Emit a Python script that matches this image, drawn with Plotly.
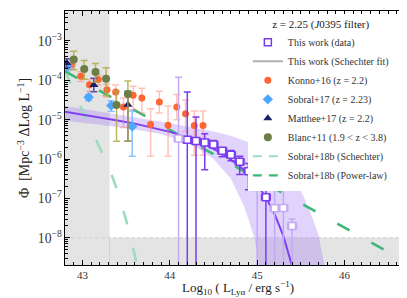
import numpy as np
import plotly.graph_objects as go

# ---------------- data (log10 Phi values) ----------------
# This work (data)
tw_x = [44.1, 44.2, 44.3, 44.4, 44.5, 44.6, 44.7, 44.8, 44.9, 45.0, 45.1, 45.2, 45.3, 45.4]
tw_log = [-5.48, -5.51, -5.54, -5.58, -5.63, -5.79, -5.89, -6.07, -6.31, -6.71, -6.97, -7.25, -7.24, -7.70]
tw_hi = [-3.92, -4.30, -4.93, -5.36, -5.53, -5.73, -5.78, -5.93, -6.11, -6.43, -6.69, -6.77, -6.77, -7.52]
tw_lo = [None, None, None, -6.27, -5.72, -5.94, -6.04, -6.39, -6.78, None, None, None, None, None]
tw_light = [True, False, False, False, False, False, False, False, False, True, False, True, True, True]
tw_xerr = 0.05

# This work (Schechter fit)
fit_x = [42.8, 43.0, 43.2, 43.4, 43.6, 43.8, 44.0, 44.2, 44.4, 44.6, 44.8, 44.9, 45.0, 45.1, 45.2, 45.3, 45.4, 45.45]
fit_log = [-4.80, -4.87, -4.94, -5.02, -5.10, -5.20, -5.31, -5.45, -5.62, -5.86, -6.18, -6.38, -6.65, -6.97, -7.40, -7.95, -8.65, -9.10]

# confidence band edges
band_up_x = [42.8, 43.2, 43.6, 43.87, 44.2, 44.5, 44.7, 44.9, 45.1, 45.3, 45.5, 45.6, 45.7, 45.77, 45.85]
band_up_log = [-4.65, -4.79, -4.93, -5.04, -5.17, -5.30, -5.41, -5.57, -5.82, -6.18, -6.80, -7.30, -7.90, -8.69, -9.60]
band_lo_x = [42.8, 43.2, 43.6, 43.87, 44.1, 44.3, 44.5, 44.7, 44.85, 44.97, 45.02, 45.08]
band_lo_log = [-5.03, -5.13, -5.25, -5.35, -5.50, -5.70, -6.00, -6.50, -7.20, -8.00, -8.70, -9.50]

# Konno+16
ko_x = [42.88, 42.98, 43.08, 43.18, 43.28, 43.38, 43.47, 43.58, 43.68, 43.78, 43.88, 43.98, 44.08, 44.18, 44.28, 44.38]
ko_log = [-3.60, -3.90, -4.11, -3.98, -4.24, -4.30, -4.68, -4.38, -4.45, -5.12, -4.55, -5.14, -4.68, -4.85, -5.15, -5.15]
ko_hi = [-3.50, -3.78, -3.98, -3.86, -4.10, -4.12, -4.45, -4.15, -4.20, -4.72, -4.28, -4.65, -4.36, -4.50, -4.78, -4.78]
ko_lo = [-3.72, -4.03, -4.28, -4.12, -4.42, -4.60, -5.20, -4.75, -4.83, -5.93, -4.83, -5.93, -5.00, -5.30, -5.90, -5.90]

# Sobral+17
so_x = [42.83, 43.07, 43.33, 43.57]
so_log = [-3.64, -4.43, -4.64, -5.17]
so_hi = [-3.55, -4.36, -4.52, -4.78]
so_lo = [-3.75, -4.51, -4.79, -5.93]

# Matthee+17
ma_x = [42.82, 43.13, 43.52]
ma_log = [-3.56, -4.12, -4.62]
ma_hi = [-3.45, -3.95, -4.28]
ma_lo = [-3.68, -4.29, -5.55]

# Blanc+11
bl_x = [42.90, 43.02, 43.15, 43.27, 43.39, 43.52]
bl_log = [-3.47, -3.71, -3.79, -3.96, -4.63, -4.35]
bl_hi = [-3.26, -3.50, -3.57, -3.68, -4.28, -4.02]
bl_lo = [-3.73, -3.97, -4.05, -4.39, -5.55, -5.55]

# Sobral+18b Schechter
s18s_x = [42.8, 42.9, 43.0, 43.1, 43.2, 43.3, 43.4, 43.5, 43.6, 43.7]
s18s_log = [-3.76, -4.28, -4.78, -5.25, -5.72, -6.20, -6.80, -7.55, -8.45, -9.50]

# Sobral+18b power-law
s18p_x = [42.8, 46.75]
s18p_log = [-3.77, -8.67]

# limits
lum_limit = 43.31
phi_limit = 1e-8

XR = [42.8, 46.75]
YR = [-8.69, -2.24]

FONT = "Liberation Serif"


def p(v):
    return None if v is None else 10.0 ** v


def errs(logs, his, los):
    y = np.array([10.0 ** v for v in logs])
    up = np.array([10.0 ** h for h in his]) - y
    dn = []
    for yy, l in zip(y, los):
        dn.append(yy - 1e-13 if l is None else yy - 10.0 ** l)
    return y, up, np.array(dn)


fig = go.Figure()

# confidence band
fig.add_trace(go.Scatter(
    x=band_up_x + band_lo_x[::-1],
    y=[p(v) for v in band_up_log + band_lo_log[::-1]],
    fill="toself", fillcolor="rgba(160,120,245,0.32)", line=dict(width=0),
    mode="lines", showlegend=False, hoverinfo="skip"))

# Sobral+18b lines
fig.add_trace(go.Scatter(x=s18s_x, y=[p(v) for v in s18s_log], mode="lines",
                         line=dict(color="#9ddcbc", width=2.6, dash="14px,24px"),
                         showlegend=False))
fig.add_trace(go.Scatter(x=s18p_x, y=[p(v) for v in s18p_log], mode="lines",
                         line=dict(color="#3cb878", width=2.6, dash="14px,25px"),
                         showlegend=False))

# fit line
fig.add_trace(go.Scatter(x=fit_x, y=[p(v) for v in fit_log], mode="lines",
                         line=dict(color="#8040f0", width=2), showlegend=False))

# literature points
def lit(xs, logs, his, los, name, sym, mcol, ecol, size, rank):
    y, up, dn = errs(logs, his, los)
    fig.add_trace(go.Scatter(
        x=xs, y=y, mode="markers", name=name, legendrank=rank,
        marker=dict(symbol=sym, color=mcol, size=size, line=dict(width=0)),
        error_y=dict(type="data", symmetric=False, array=up, arrayminus=dn,
                     color=ecol, thickness=1.5, width=3.5)))

lit(ko_x, ko_log, ko_hi, ko_lo, "Konno+16 (z = 2.2)", "circle", "#ff6633", "rgba(255,120,100,0.45)", 7, 3)
lit(so_x, so_log, so_hi, so_lo, "Sobral+17 (z = 2.23)", "diamond", "#4da6ff", "rgba(90,170,255,0.7)", 8, 4)
lit(ma_x, ma_log, ma_hi, ma_lo, "Matthee+17 (z = 2.2)", "triangle-up", "#1b1f6b", "#5a4fa8", 8, 5)
lit(bl_x, bl_log, bl_hi, bl_lo, "Blanc+11 (1.9 < z < 3.8)", "circle", "#6d7d46", "rgba(175,172,70,0.85)", 8, 6)

# This work data, dark and light error bars
for light in (False, True):
    idx = [i for i, l in enumerate(tw_light) if l == light]
    y, up, dn = errs([tw_log[i] for i in idx], [tw_hi[i] for i in idx], [tw_lo[i] for i in idx])
    col = "#c4a8f6" if light else "#7a3cf0"
    fig.add_trace(go.Scatter(
        x=[tw_x[i] for i in idx], y=y, mode="markers",
        name="This work (data)", showlegend=not light,
        marker=dict(symbol="square", color="white", size=7, line=dict(color=col, width=1.5)),
        error_y=dict(type="data", symmetric=False, array=up, arrayminus=dn,
                     color=col, thickness=1.5, width=3.5),
        error_x=dict(type="constant", value=tw_xerr, color=col, thickness=1.5, width=3.5),
        legendrank=1))

# legend-only entries
fig.add_trace(go.Scatter(x=[None], y=[None], mode="lines", name="This work (Schechter fit)",
                         line=dict(color="#b0b0b0", width=2), legendrank=2))
fig.add_trace(go.Scatter(x=[None], y=[None], mode="lines", name="Sobral+18b (Schechter)",
                         line=dict(color="#9ddcbc", width=2, dash="9px,7px"), legendrank=7))
fig.add_trace(go.Scatter(x=[None], y=[None], mode="lines", name="Sobral+18b (Power-law)",
                         line=dict(color="#3cb878", width=2.4, dash="9px,7px"), legendrank=8))

shapes = [
    dict(type="rect", xref="x", yref="paper", x0=XR[0], x1=lum_limit, y0=0, y1=1,
         fillcolor="#e4e4e4", line=dict(width=0), layer="below"),
    dict(type="rect", xref="paper", yref="y", x0=0, x1=1, y0=10 ** YR[0], y1=phi_limit,
         fillcolor="#e4e4e4", line=dict(width=0), layer="below"),
    dict(type="line", xref="paper", yref="y", x0=0, x1=1, y0=phi_limit, y1=phi_limit,
         line=dict(color="#cfcfcf", width=1, dash="4px,2px"), layer="below"),
    dict(type="line", xref="x", yref="y", x0=lum_limit, x1=lum_limit, y0=10 ** YR[0], y1=phi_limit,
         line=dict(color="#d2d2d2", width=1), layer="below"),
]

fig.update_layout(
    width=407, height=298,
    margin=dict(l=57, r=5, t=3, b=41),
    paper_bgcolor="white", plot_bgcolor="white",
    font=dict(family=FONT, color="#222222", size=11),
    shapes=shapes,
    showlegend=True,
    legend=dict(x=0.53, xanchor="left", y=0.99, yanchor="top",
                bgcolor="white", borderwidth=0,
                font=dict(family=FONT, size=10, color="#333333"),
                title=dict(text="z = 2.25 (<i>J</i>0395 filter)", side="top center",
                           font=dict(family=FONT, size=11, color="#222222")),
                tracegroupgap=0, itemwidth=30),
    annotations=[dict(text="Log<sub>10</sub> ( L<sub>Lyα</sub> / erg s<sup>−1</sup>)",
                      xref="paper", yref="paper", x=0.5, y=0, yshift=-23,
                      xanchor="center", yanchor="middle", showarrow=False,
                      font=dict(family=FONT, size=13, color="#222222"))],
)

fig.update_xaxes(range=XR, dtick=1, tick0=43, showline=True, linecolor="black", linewidth=1,
                 mirror="allticks", ticks="inside", ticklen=5, tickcolor="black",
                 showgrid=False, zeroline=False,
                 minor=dict(dtick=0.1, ticks="inside", ticklen=3, tickcolor="black"),
                 tickfont=dict(family=FONT, size=11, color="#333333"))
fig.update_yaxes(type="log", range=YR, dtick=1, exponentformat="power",
                 showline=True, linecolor="black", linewidth=1,
                 mirror="allticks", ticks="inside", ticklen=5, tickcolor="black",
                 showgrid=False, zeroline=False,
                 minor=dict(ticks="inside", ticklen=3, tickcolor="black"),
                 tickfont=dict(family=FONT, size=11, color="#333333"),
                 title=dict(text="Φ  [Mpc<sup>−3</sup> ΔLog L<sup>−1</sup>]",
                            font=dict(family=FONT, size=14, color="#222222"), standoff=4))

fig.write_html("out.html")
